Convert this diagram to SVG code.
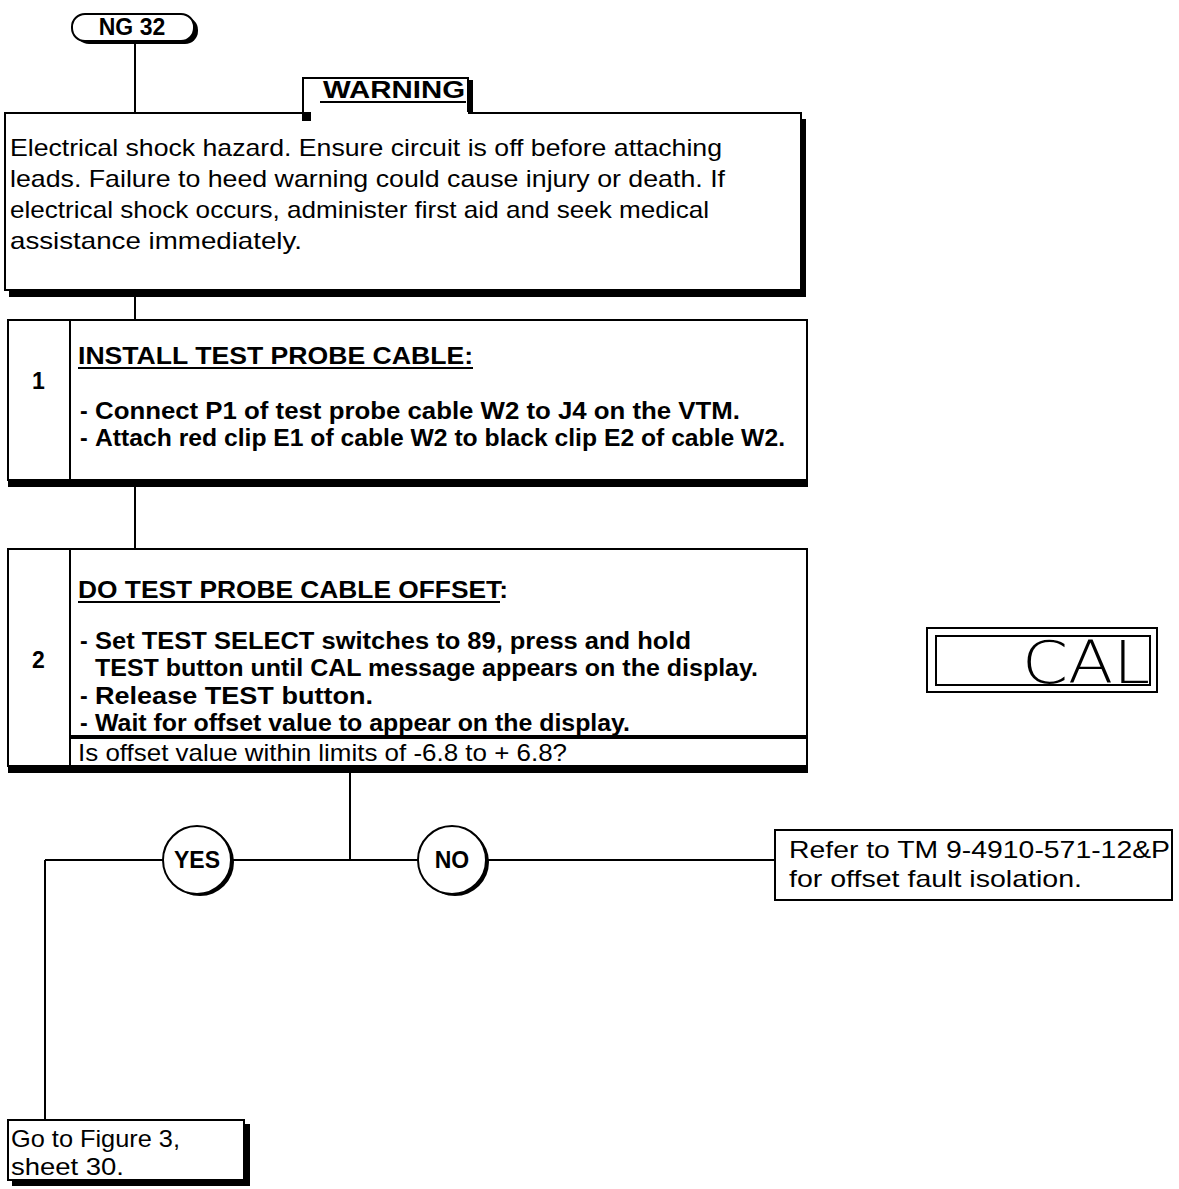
<svg xmlns="http://www.w3.org/2000/svg" width="1179" height="1189" viewBox="0 0 1179 1189">
<style>
  .ln{stroke:#000;stroke-width:2;fill:none}
  .box{fill:#fff;stroke:#000;stroke-width:2}
  .sh{fill:#000}
  .t{font-family:"Liberation Sans",Arial,sans-serif;font-size:24px;fill:#000}
  .b{font-family:"Liberation Sans",Arial,sans-serif;font-size:23px;font-weight:bold;fill:#000}
</style>
<rect width="1179" height="1189" fill="#fff"/>
<g id="connectors">
  <line class="ln" x1="135" y1="40" x2="135" y2="113"/>
  <line class="ln" x1="135" y1="290" x2="135" y2="320"/>
  <line class="ln" x1="135" y1="486" x2="135" y2="549"/>
  <line class="ln" x1="350" y1="772" x2="350" y2="860"/>
  <line class="ln" x1="45" y1="860" x2="775" y2="860"/>
  <line class="ln" x1="45" y1="860" x2="45" y2="1120"/>
</g>
<g id="start">
  <rect class="sh" x="76" y="17" width="122" height="27" rx="13"/>
  <rect class="box" x="72" y="14" width="122" height="27" rx="13"/>
  <text class="b" x="132" y="35" font-size="20" text-anchor="middle">NG 32</text>
</g>
<g id="warning">
  <rect class="sh" x="9" y="119" width="797" height="178"/>
  <rect class="box" x="5" y="113" width="796" height="177"/>
  <rect class="sh" x="468" y="80" width="5" height="33"/>
  <path d="M303,113 V78 H468 V113" fill="#fff" stroke="#000" stroke-width="2"/>
  <rect x="304" y="112" width="164" height="4" fill="#fff"/>
  <rect class="sh" x="302" y="112" width="9" height="9"/>
  <text class="b" x="323" y="98" font-size="21" textLength="142" lengthAdjust="spacingAndGlyphs">WARNING</text>
  <line class="ln" x1="320" y1="102" x2="466" y2="102"/>
  <text class="t" x="10" y="156" textLength="712" lengthAdjust="spacingAndGlyphs">Electrical shock hazard. Ensure circuit is off before attaching</text>
  <text class="t" x="10" y="187" textLength="715" lengthAdjust="spacingAndGlyphs">leads. Failure to heed warning could cause injury or death. If</text>
  <text class="t" x="10" y="218" textLength="699" lengthAdjust="spacingAndGlyphs">electrical shock occurs, administer first aid and seek medical</text>
  <text class="t" x="10" y="249" textLength="292" lengthAdjust="spacingAndGlyphs">assistance immediately.</text>
</g>
<g id="step1">
  <rect class="sh" x="8" y="478" width="800" height="9"/>
  <rect class="box" x="8" y="320" width="799" height="160"/>
  <line class="ln" x1="70" y1="320" x2="70" y2="480"/>
  <text class="b" x="32" y="389">1</text>
  <text class="b" x="78" y="364" textLength="395" lengthAdjust="spacingAndGlyphs">INSTALL TEST PROBE CABLE:</text>
  <line class="ln" x1="78" y1="368" x2="473" y2="368"/>
  <text class="b" x="80" y="419">-</text>
  <text class="b" x="95" y="419" textLength="645" lengthAdjust="spacingAndGlyphs">Connect P1 of test probe cable W2 to J4 on the VTM.</text>
  <text class="b" x="80" y="446">-</text>
  <text class="b" x="95" y="446" textLength="690" lengthAdjust="spacingAndGlyphs">Attach red clip E1 of cable W2 to black clip E2 of cable W2.</text>
</g>
<g id="step2">
  <rect class="sh" x="8" y="764" width="800" height="9"/>
  <rect class="box" x="8" y="549" width="799" height="217"/>
  <line class="ln" x1="70" y1="549" x2="70" y2="766"/>
  <rect class="sh" x="70" y="735" width="737" height="4"/>
  <text class="b" x="32" y="668">2</text>
  <text class="b" x="78" y="598" textLength="430" lengthAdjust="spacingAndGlyphs">DO TEST PROBE CABLE OFFSET:</text>
  <line class="ln" x1="78" y1="602" x2="500" y2="602"/>
  <text class="b" x="80" y="649">-</text>
  <text class="b" x="95" y="649" textLength="596" lengthAdjust="spacingAndGlyphs">Set TEST SELECT switches to 89, press and hold</text>
  <text class="b" x="95" y="676" textLength="663" lengthAdjust="spacingAndGlyphs">TEST button until CAL message appears on the display.</text>
  <text class="b" x="80" y="704">-</text>
  <text class="b" x="95" y="704" textLength="278" lengthAdjust="spacingAndGlyphs">Release TEST button.</text>
  <text class="b" x="80" y="731">-</text>
  <text class="b" x="95" y="731" textLength="535" lengthAdjust="spacingAndGlyphs">Wait for offset value to appear on the display.</text>
  <text class="t" x="78" y="761" font-size="23" textLength="489" lengthAdjust="spacingAndGlyphs">Is offset value within limits of -6.8 to + 6.8?</text>
</g>
<g id="display">
  <rect x="927" y="628" width="230" height="64" fill="none" stroke="#000" stroke-width="2"/>
  <rect x="936" y="636" width="214" height="49" fill="none" stroke="#000" stroke-width="2"/>
  <text x="1022" y="683" font-family="DejaVu Sans, sans-serif" font-size="58" font-weight="200" textLength="128" lengthAdjust="spacingAndGlyphs">CAL</text>
</g>
<g id="yes">
  <circle class="sh" cx="200" cy="862" r="34"/>
  <circle class="box" cx="197" cy="860" r="34"/>
  <text class="b" x="197" y="868" font-size="22" text-anchor="middle">YES</text>
</g>
<g id="no">
  <circle class="sh" cx="455" cy="862" r="34"/>
  <circle class="box" cx="452" cy="860" r="34"/>
  <text class="b" x="452" y="868" font-size="22" text-anchor="middle">NO</text>
</g>
<g id="refer">
  <rect class="box" x="775" y="830" width="397" height="70" stroke-width="3"/>
  <text class="t" x="789" y="858" textLength="381" lengthAdjust="spacingAndGlyphs">Refer to TM 9-4910-571-12&amp;P</text>
  <text class="t" x="789" y="887" textLength="293" lengthAdjust="spacingAndGlyphs">for offset fault isolation.</text>
</g>
<g id="goto">
  <rect class="sh" x="12" y="1124" width="238" height="62"/>
  <rect class="box" x="8" y="1120" width="236" height="60"/>
  <text class="t" x="11" y="1147" textLength="169" lengthAdjust="spacingAndGlyphs">Go to Figure 3,</text>
  <text class="t" x="11" y="1175" textLength="113" lengthAdjust="spacingAndGlyphs">sheet 30.</text>
</g>
</svg>
